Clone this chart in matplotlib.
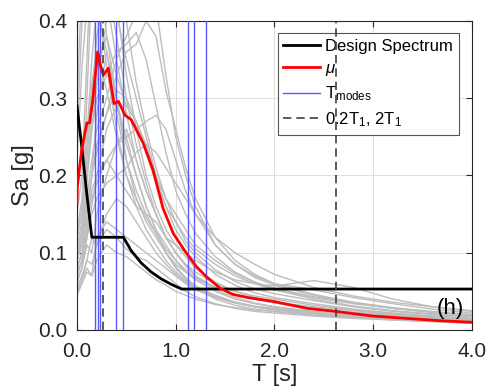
import matplotlib
matplotlib.use("Agg")
import matplotlib.pyplot as plt
import numpy as np

plt.rcParams['font.family'] = ['Liberation Sans', 'DejaVu Sans']
plt.rcParams['mathtext.fontset'] = 'custom'
plt.rcParams['mathtext.rm'] = 'Liberation Sans'
plt.rcParams['mathtext.it'] = 'Liberation Sans:italic'

# periods where the record spectra are sampled
T_rec = [0.0, 0.05, 0.1, 0.15, 0.2, 0.3, 0.4, 0.5, 0.6, 0.7, 0.8, 0.9, 1.0,
         1.1, 1.2, 1.4, 1.6, 1.8, 2.0, 2.4, 2.8, 3.2, 3.6, 4.0]

# spectral accelerations of the individual ground motion records [g]
records = [
    [0.25, 0.40, 0.46, 0.55, 0.50, 0.38, 0.30, 0.22, 0.17, 0.14, 0.12, 0.10, 0.085, 0.075, 0.066, 0.055, 0.046, 0.040, 0.035, 0.028, 0.022, 0.018, 0.015, 0.013],
    [0.12, 0.16, 0.30, 0.45, 0.48, 0.43, 0.35, 0.28, 0.22, 0.18, 0.15, 0.12, 0.10, 0.085, 0.075, 0.060, 0.050, 0.044, 0.040, 0.032, 0.026, 0.021, 0.018, 0.015],
    [0.10, 0.13, 0.20, 0.26, 0.30, 0.33, 0.36, 0.37, 0.385, 0.35, 0.29, 0.23, 0.18, 0.15, 0.125, 0.095, 0.075, 0.062, 0.052, 0.040, 0.031, 0.025, 0.021, 0.018],
    [0.09, 0.12, 0.17, 0.22, 0.26, 0.30, 0.35, 0.38, 0.41, 0.44, 0.42, 0.33, 0.25, 0.20, 0.16, 0.11, 0.085, 0.068, 0.058, 0.045, 0.035, 0.028, 0.023, 0.019],
    [0.08, 0.10, 0.14, 0.17, 0.19, 0.22, 0.24, 0.25, 0.26, 0.27, 0.278, 0.26, 0.22, 0.18, 0.15, 0.11, 0.085, 0.070, 0.060, 0.052, 0.042, 0.034, 0.027, 0.022],
    [0.07, 0.09, 0.13, 0.18, 0.20, 0.22, 0.20, 0.18, 0.16, 0.15, 0.14, 0.12, 0.11, 0.10, 0.09, 0.075, 0.065, 0.060, 0.057, 0.064, 0.055, 0.040, 0.030, 0.024],
    [0.05, 0.065, 0.08, 0.07, 0.12, 0.14, 0.13, 0.12, 0.11, 0.10, 0.09, 0.08, 0.07, 0.06, 0.052, 0.042, 0.035, 0.030, 0.027, 0.022, 0.018, 0.015, 0.012, 0.010],
    [0.06, 0.08, 0.12, 0.20, 0.28, 0.36, 0.30, 0.24, 0.20, 0.16, 0.13, 0.11, 0.09, 0.075, 0.065, 0.050, 0.040, 0.034, 0.030, 0.024, 0.019, 0.016, 0.013, 0.011],
    [0.15, 0.20, 0.35, 0.50, 0.62, 0.50, 0.42, 0.33, 0.26, 0.20, 0.16, 0.13, 0.11, 0.095, 0.08, 0.062, 0.050, 0.042, 0.036, 0.028, 0.022, 0.018, 0.015, 0.012],
    [0.30, 0.45, 0.50, 0.60, 0.55, 0.45, 0.38, 0.30, 0.24, 0.19, 0.15, 0.12, 0.10, 0.083, 0.07, 0.052, 0.042, 0.035, 0.030, 0.023, 0.018, 0.015, 0.012, 0.010],
    [0.11, 0.14, 0.22, 0.30, 0.38, 0.45, 0.41, 0.35, 0.30, 0.25, 0.20, 0.16, 0.13, 0.11, 0.095, 0.072, 0.058, 0.048, 0.042, 0.034, 0.027, 0.022, 0.018, 0.015],
    [0.065, 0.08, 0.11, 0.10, 0.15, 0.20, 0.24, 0.26, 0.22, 0.18, 0.15, 0.12, 0.10, 0.085, 0.07, 0.055, 0.046, 0.040, 0.036, 0.030, 0.025, 0.020, 0.017, 0.014],
    [0.09, 0.12, 0.19, 0.26, 0.32, 0.40, 0.46, 0.40, 0.32, 0.26, 0.21, 0.17, 0.14, 0.115, 0.10, 0.078, 0.063, 0.053, 0.047, 0.038, 0.030, 0.024, 0.020, 0.017],
    [0.13, 0.17, 0.25, 0.35, 0.42, 0.36, 0.28, 0.22, 0.18, 0.15, 0.125, 0.10, 0.082, 0.068, 0.057, 0.045, 0.036, 0.030, 0.026, 0.021, 0.017, 0.014, 0.011, 0.009],
    [0.08, 0.10, 0.15, 0.20, 0.24, 0.28, 0.31, 0.30, 0.27, 0.23, 0.19, 0.16, 0.14, 0.12, 0.105, 0.085, 0.070, 0.060, 0.052, 0.042, 0.034, 0.028, 0.023, 0.019],
    [0.055, 0.07, 0.09, 0.12, 0.11, 0.15, 0.17, 0.16, 0.14, 0.12, 0.10, 0.085, 0.072, 0.062, 0.054, 0.043, 0.036, 0.031, 0.028, 0.023, 0.019, 0.016, 0.013, 0.011],
    [0.22, 0.34, 0.42, 0.48, 0.44, 0.34, 0.26, 0.20, 0.16, 0.13, 0.11, 0.09, 0.075, 0.064, 0.055, 0.043, 0.035, 0.030, 0.026, 0.021, 0.017, 0.014, 0.012, 0.010],
    [0.10, 0.13, 0.20, 0.28, 0.34, 0.38, 0.33, 0.29, 0.27, 0.24, 0.20, 0.17, 0.15, 0.13, 0.11, 0.09, 0.073, 0.062, 0.054, 0.043, 0.035, 0.028, 0.023, 0.019],
    [0.12, 0.15, 0.24, 0.32, 0.36, 0.31, 0.25, 0.20, 0.17, 0.145, 0.125, 0.105, 0.09, 0.078, 0.068, 0.055, 0.046, 0.040, 0.035, 0.028, 0.023, 0.019, 0.016, 0.013],
    [0.07, 0.09, 0.12, 0.16, 0.20, 0.26, 0.29, 0.25, 0.20, 0.16, 0.13, 0.10, 0.08, 0.066, 0.055, 0.040, 0.032, 0.027, 0.024, 0.019, 0.016, 0.013, 0.011, 0.009],
    [0.045, 0.06, 0.075, 0.07, 0.09, 0.11, 0.10, 0.095, 0.085, 0.075, 0.065, 0.058, 0.050, 0.045, 0.040, 0.033, 0.029, 0.026, 0.024, 0.020, 0.017, 0.014, 0.012, 0.010],
    [0.05, 0.065, 0.09, 0.085, 0.11, 0.13, 0.12, 0.105, 0.095, 0.09, 0.08, 0.07, 0.06, 0.05, 0.043, 0.034, 0.028, 0.024, 0.022, 0.018, 0.015, 0.013, 0.011, 0.009],
    [0.09, 0.11, 0.16, 0.20, 0.23, 0.28, 0.33, 0.36, 0.37, 0.40, 0.38, 0.31, 0.26, 0.21, 0.17, 0.12, 0.09, 0.072, 0.060, 0.046, 0.036, 0.029, 0.024, 0.020],
    [0.075, 0.09, 0.12, 0.15, 0.17, 0.19, 0.20, 0.21, 0.23, 0.24, 0.23, 0.21, 0.19, 0.17, 0.15, 0.12, 0.10, 0.085, 0.072, 0.055, 0.044, 0.036, 0.030, 0.025],
]

# mean spectrum of the set
T_mean = [0.0, 0.003, 0.047, 0.10, 0.127, 0.16, 0.18, 0.21, 0.233, 0.267, 0.317,
          0.375, 0.42, 0.486, 0.55, 0.67, 0.77, 0.87, 0.975, 1.11, 1.21, 1.31,
          1.45, 1.58, 1.73, 1.99, 2.33, 2.62, 3.0, 3.34, 3.68, 4.0]
Sa_mean = [0.165, 0.185, 0.233, 0.268, 0.268, 0.298, 0.324, 0.36, 0.345, 0.33,
           0.339, 0.293, 0.296, 0.278, 0.272, 0.242, 0.207, 0.158, 0.125, 0.099,
           0.082, 0.069, 0.054, 0.046, 0.042, 0.037, 0.028, 0.024, 0.018, 0.015,
           0.012, 0.010]

# design spectrum
T_design = [0.0, 0.05, 0.10, 0.15, 0.47, 0.55, 0.65, 0.75, 0.85, 0.95, 1.06, 4.0]
Sa_design = [0.29, 0.235, 0.175, 0.12, 0.12, 0.1025, 0.0868, 0.0752, 0.0664, 0.0594, 0.053, 0.053]

# modal periods [s]
T_modes = [0.182, 0.216, 0.233, 0.395, 0.463, 1.124, 1.185, 1.31]
T1 = 1.31

fig = plt.figure(figsize=(4.89, 3.88), dpi=100)
ax = fig.add_axes([0.1575, 0.1495, 0.8075, 0.7965])

for sa in records:
    ax.plot(T_rec, sa, color=(0.74, 0.74, 0.74), lw=1.0, zorder=2)

for i, tm in enumerate(T_modes):
    ax.axvline(tm, color=(0.35, 0.35, 1.0), lw=1.0, zorder=3,
               label=r'T$_{\mathrm{modes}}$' if i == 0 else None)

ax.plot(T_design, Sa_design, color='k', lw=2.0, zorder=4, label='Design Spectrum')
ax.plot(T_mean, Sa_mean, color='#ff0000', lw=2.0, zorder=5, label=r'$\mu$')

ax.axvline(0.2 * T1, color=(0.25, 0.25, 0.25), lw=1.2, ls=(0, (5, 3)), zorder=6,
           label=r'0.2T$_1$, 2T$_1$')
ax.axvline(2 * T1, color=(0.25, 0.25, 0.25), lw=1.2, ls=(0, (5, 3)), zorder=6)

ax.set_xlim(0, 4)
ax.set_ylim(0, 0.4)
ax.set_xticks([0, 1, 2, 3, 4])
ax.set_xticklabels(['0.0', '1.0', '2.0', '3.0', '4.0'])
ax.set_yticks([0, 0.1, 0.2, 0.3, 0.4])
ax.set_yticklabels(['0.0', '0.1', '0.2', '0.3', '0.4'])
ax.tick_params(direction='in', length=4, width=0.8, labelsize=15, colors='#262626',
               top=True, right=True)
ax.tick_params(axis='x', pad=9)
ax.tick_params(axis='y', pad=7)
ax.grid(True, color=(0.87, 0.87, 0.87), lw=0.7, zorder=0)
ax.set_axisbelow(True)
for s in ax.spines.values():
    s.set_color('#262626')
    s.set_linewidth(0.8)

ax.set_xlabel('T [s]', fontsize=17, color='#262626', labelpad=2)
ax.set_ylabel('Sa [g]', fontsize=17, color='#262626', labelpad=3)

handles, labels = ax.get_legend_handles_labels()
order = [labels.index('Design Spectrum'), labels.index(r'$\mu$'),
         labels.index(r'T$_{\mathrm{modes}}$'), labels.index(r'0.2T$_1$, 2T$_1$')]
leg = ax.legend([handles[i] for i in order], [labels[i] for i in order],
                loc='upper right', bbox_to_anchor=(0.967, 0.962), fontsize=12,
                frameon=True, fancybox=False, framealpha=1, edgecolor='#555555',
                handlelength=2.2, handletextpad=0.3, labelspacing=0.42,
                borderpad=0.35, borderaxespad=0)
leg.get_frame().set_linewidth(0.8)

ax.text(3.92, 0.028, '(h)', fontsize=16, ha='right', va='center', color='k', zorder=7)

fig.savefig('out.png', dpi=100)
